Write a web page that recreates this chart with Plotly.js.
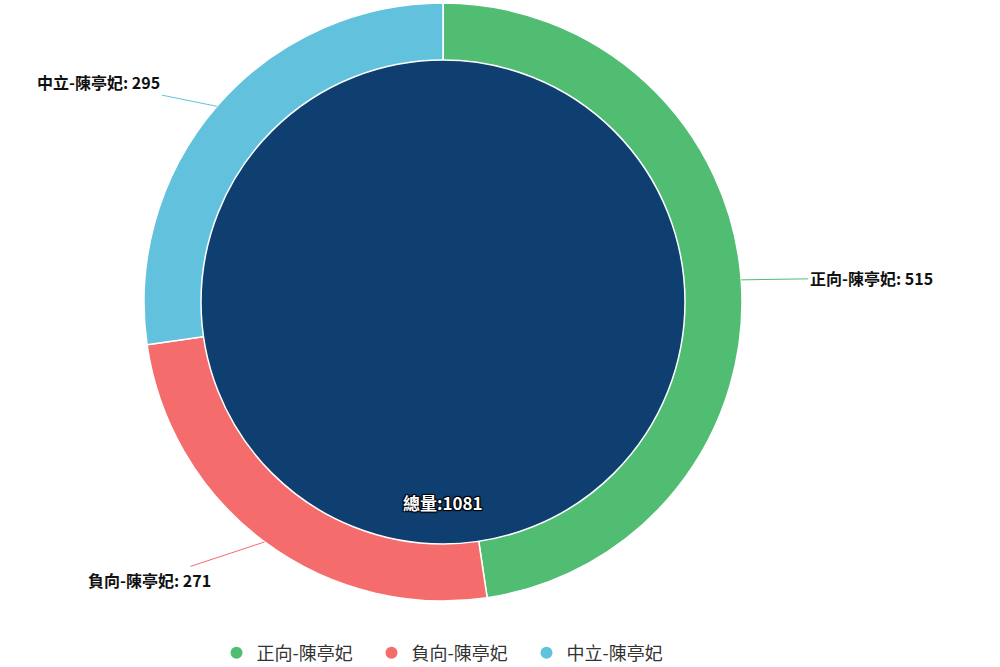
<!DOCTYPE html>
<html>
<head>
<meta charset="utf-8">
<script src="https://cdn.plot.ly/plotly-3.0.1.min.js"></script>
<style>
  html, body { margin: 0; padding: 0; background: #fff; }
  #chart { width: 1000px; height: 667px; }
</style>
</head>
<body>
<div id="chart"></div>
<script>
var CHART = document.getElementById('chart');

// data
var labels = ['正向-陳亭妃', '負向-陳亭妃', '中立-陳亭妃'];
var values = [515, 271, 295];
var colors = ['#50bd72', '#f56c6c', '#62c2de'];
var totalLabel = '總量';
var totalColor = '#0e3f70';

var total = values.reduce(function (a, b) { return a + b; }, 0);

// plot area: pie centred at (443, 302), radius 299
var ml = 144, mt = 3, size = 598;
var mr = 1000 - ml - size, mb = 667 - mt - size;
var innerFrac = 242 / 299;
var lo = 0.5 - innerFrac / 2, hi = 0.5 + innerFrac / 2;

var ring = {
  type: 'pie',
  labels: labels,
  values: values,
  marker: { colors: colors, line: { color: '#ffffff', width: 1.5 } },
  hole: 0.805,
  sort: false,
  direction: 'clockwise',
  rotation: 0,
  textinfo: 'none',
  hoverinfo: 'label+value',
  showlegend: false,
  domain: { x: [0, 1], y: [0, 1] }
};

var core = {
  type: 'pie',
  labels: [totalLabel],
  values: [total],
  marker: { colors: [totalColor], line: { color: '#ffffff', width: 1.5 } },
  sort: false,
  textinfo: 'none',
  hoverinfo: 'label+value',
  showlegend: false,
  domain: { x: [lo, hi], y: [lo, hi] }
};

// legend entries with round markers
var legendTraces = labels.map(function (name, i) {
  return {
    type: 'scatter',
    mode: 'markers',
    x: [null], y: [null],
    name: name,
    marker: { color: colors[i], size: 18, symbol: 'circle' },
    hoverinfo: 'skip'
  };
});

// outside labels with leader lines, placed off each slice's mid angle
var labelOffsets = [[130, -2], [-115, 38], [-118, -24]];
var annotations = [];
var acc = 0;
for (var i = 0; i < values.length; i++) {
  var mid = (acc + values[i] / 2) / total * 2 * Math.PI;
  acc += values[i];
  var px = 0.5 + 0.5 * Math.sin(mid);
  var py = 0.5 + 0.5 * Math.cos(mid);
  annotations.push({
    xref: 'paper', yref: 'paper',
    x: px, y: py,
    text: labels[i] + ': ' + values[i],
    showarrow: true,
    arrowhead: 0,
    arrowwidth: 1,
    arrowcolor: colors[i],
    standoff: 0,
    ax: labelOffsets[i][0],
    ay: labelOffsets[i][1],
    font: { family: 'Noto Sans CJK TC, sans-serif', size: 16, color: '#111', weight: 'bold' }
  });
}
annotations.push({
  xref: 'paper', yref: 'paper',
  x: 0.5, y: (601 - 517) / size,
  text: totalLabel + ':' + total,
  showarrow: false,
  font: {
    family: 'Noto Sans CJK TC, sans-serif', size: 17, color: '#ffffff', weight: 'bold',
    shadow: '1px 1px 1px #000, -1px -1px 1px #000, 1px -1px 1px #000, -1px 1px 1px #000'
  }
});

var layout = {
  width: 1000,
  height: 667,
  margin: { l: ml, r: mr, t: mt, b: mb, pad: 0, autoexpand: false },
  paper_bgcolor: '#ffffff',
  plot_bgcolor: '#ffffff',
  xaxis: { visible: false },
  yaxis: { visible: false },
  showlegend: true,
  legend: {
    orientation: 'h',
    xref: 'container', yref: 'container',
    x: 449 / 1000, xanchor: 'center',
    y: 1 - 653 / 667, yanchor: 'middle',
    font: { family: 'Noto Sans CJK TC, sans-serif', size: 18, color: '#333' },
    entrywidth: 110,
    entrywidthmode: 'pixels',
    itemsizing: 'constant',
    traceorder: 'normal'
  },
  annotations: annotations
};

Plotly.newPlot(CHART, [ring, core].concat(legendTraces), layout, { displayModeBar: false, staticPlot: true });
</script>
</body>
</html>
